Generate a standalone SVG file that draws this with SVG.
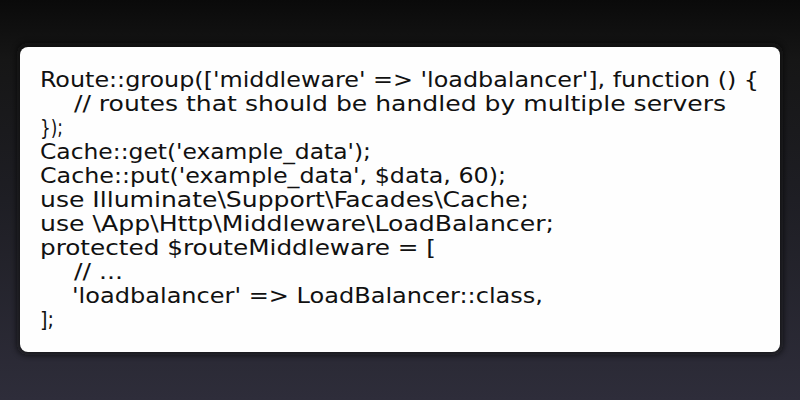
<svg xmlns="http://www.w3.org/2000/svg" width="800" height="400" viewBox="0 0 800 400">
  <defs>
    <linearGradient id="bg" x1="0" y1="0" x2="0" y2="1">
      <stop offset="0" stop-color="#0a0a0a"/>
      <stop offset="0.15" stop-color="#161616"/>
      <stop offset="0.5" stop-color="#1e1e24"/>
      <stop offset="1" stop-color="#2e2d3a"/>
    </linearGradient>
    <filter id="shadow" x="-10%" y="-10%" width="120%" height="120%">
      <feGaussianBlur stdDeviation="3"/>
    </filter>
    <style>
      .code { font-family: "DejaVu Sans Condensed", "DejaVu Sans", sans-serif; font-stretch: condensed; font-size: 20.5px; fill: #111111; }
    </style>
  </defs>
  <rect x="0" y="0" width="800" height="400" fill="url(#bg)"/>
  <g id="card">
    <rect x="17" y="43" width="766" height="312" rx="10" fill="#0c0c0c" opacity="0.7" filter="url(#shadow)"/>
    <rect x="20" y="47" width="760" height="305" rx="8" fill="#fefefe"/>
  </g>
  <g id="code-text">
    <text class="code" x="40" y="87" textLength="719" lengthAdjust="spacingAndGlyphs">Route::group(['middleware' =&gt; 'loadbalancer'], function () {</text>
    <text class="code" x="74" y="111" textLength="652" lengthAdjust="spacingAndGlyphs">// routes that should be handled by multiple servers</text>
    <text class="code" x="40" y="135" textLength="23" lengthAdjust="spacingAndGlyphs">});</text>
    <text class="code" x="40" y="159" textLength="331" lengthAdjust="spacingAndGlyphs">Cache::get('example_data');</text>
    <text class="code" x="40" y="183" textLength="466" lengthAdjust="spacingAndGlyphs">Cache::put('example_data', $data, 60);</text>
    <text class="code" x="40" y="207" textLength="489" lengthAdjust="spacingAndGlyphs">use Illuminate\Support\Facades\Cache;</text>
    <text class="code" x="40" y="231" textLength="514" lengthAdjust="spacingAndGlyphs">use \App\Http\Middleware\LoadBalancer;</text>
    <text class="code" x="40" y="255" textLength="396" lengthAdjust="spacingAndGlyphs">protected $routeMiddleware = [</text>
    <text class="code" x="74" y="279" textLength="49" lengthAdjust="spacingAndGlyphs">// ...</text>
    <text class="code" x="72" y="303" textLength="471" lengthAdjust="spacingAndGlyphs">'loadbalancer' =&gt; LoadBalancer::class,</text>
    <text class="code" x="40" y="327" textLength="14" lengthAdjust="spacingAndGlyphs">];</text>
  </g>
</svg>
